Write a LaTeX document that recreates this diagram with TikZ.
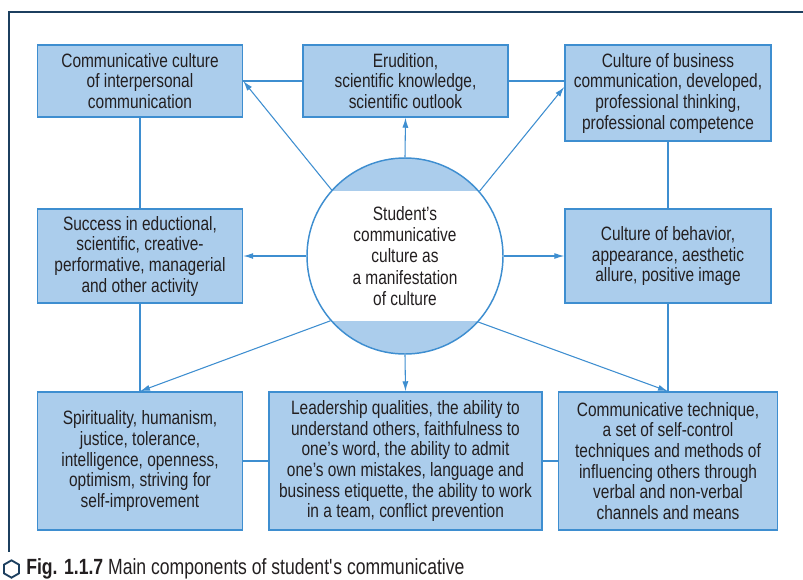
\documentclass[tikz,border=0pt]{standalone}
\usepackage{fontspec}
\setmainfont{Liberation Sans}[FakeStretch=0.8]
\usetikzlibrary{arrows.meta,shapes.geometric}

\definecolor{boxblue}{HTML}{ABCDEC}
\definecolor{lineblue}{HTML}{3E8ED0}
\definecolor{navy}{HTML}{1C3F5F}
\definecolor{ink}{HTML}{231F20}

\tikzset{
  box/.style={draw=lineblue, line width=1.1pt, fill=boxblue, text=ink, align=center,
    inner sep=0pt, font=\fontsize{14.5}{15.5}\selectfont},
  hub/.style={circle, draw=lineblue, line width=1.1pt, fill=white, text=ink, align=center,
    inner sep=0pt, minimum size=147pt, font=\fontsize{14.5}{16}\selectfont,
    path picture={
      \fill[boxblue] (path picture bounding box.north west) rectangle ([yshift=-24.75pt]path picture bounding box.north east);
      \fill[boxblue] (path picture bounding box.south west) rectangle ([yshift=24.75pt]path picture bounding box.south east);
    }},
  link/.style={draw=lineblue, line width=0.8pt},
  arr/.style={link, -{Latex[length=7.5pt,width=4.5pt]}},
}

\begin{document}
\begin{tikzpicture}[x=0.75pt,y=-0.75pt]
  \useasboundingbox (0,0) rectangle (803,579);
  % frame
  \draw[navy, line width=1.8pt] (803,12) -- (9,12) -- (9,552);

  % top row
  \node[box, minimum width=153.75pt, minimum height=54pt] (comm) at (140,81)
    {Communicative culture\\of interpersonal\\communication};
  \node[box, minimum width=153.75pt, minimum height=54pt] (erud) at (405.5,81)
    {Erudition,\\scientific knowledge,\\scientific outlook};
  \node[box, minimum width=154.5pt, minimum height=72pt] (busi) at (668,93)
    {Culture of business\\communication, developed,\\professional thinking,\\professional competence};

  % middle row
  \node[box, minimum width=153.75pt, minimum height=70.5pt] (succ) at (140,256)
    {Success in eductional,\\scientific, creative-\\performative, managerial\\and other activity};
  \node[hub] (stud) at (405,256)
    {Student's\\communicative\\culture as\\a manifestation\\of culture};
  \node[box, minimum width=154.5pt, minimum height=70.5pt] (behav) at (668,256)
    {Culture of behavior,\\appearance, aesthetic\\allure, positive image};

  % bottom row
  \node[box, minimum width=153.75pt, minimum height=103.5pt] (spir) at (140,461)
    {Spirituality, humanism,\\justice, tolerance,\\intelligence, openness,\\optimism, striving for\\self-improvement};
  \node[box, minimum width=204.75pt, minimum height=103.5pt] (lead) at (405.5,461)
    {Leadership qualities, the ability to\\understand others, faithfulness to\\one's word, the ability to admit\\one's own mistakes, language and\\business etiquette, the ability to work\\in a team, conflict prevention};
  \node[box, minimum width=164.25pt, minimum height=103.5pt] (tech) at (668,461)
    {Communicative technique,\\a set of self-control\\techniques and methods of\\influencing others through\\verbal and non-verbal\\channels and means};

  % plain links
  \draw[link] (comm) -- (erud);
  \draw[link] (erud.east) -- (erud.east -| busi.west);
  \draw[link] (comm) -- (succ);
  \draw[link] (succ) -- (spir);
  \draw[link] (busi) -- (behav);
  \draw[link] (behav) -- (tech);
  \draw[link] (spir) -- (lead);
  \draw[link] (lead) -- (tech);

  % arrows from the centre
  \draw[arr] (stud.138.5) -- (comm.east);
  \draw[arr] (stud.north) -- (erud.south);
  \draw[arr] (stud.41.5) -- ([yshift=4.5pt]busi.west);
  \draw[arr] (stud.west) -- (succ.east);
  \draw[arr] (stud.east) -- (behav.west);
  \draw[arr] (stud.221.5) -- (spir.north);
  \draw[arr] (stud.south) -- (lead.north);
  \draw[arr] (stud.318.5) -- (tech.north);

  % caption
  \node[regular polygon, regular polygon sides=6, shape border rotate=30, draw=navy,
    line width=1.4pt, minimum size=13pt, inner sep=0pt] (hex) at (11.5,569) {};
  \node[anchor=base west, text=ink, inner sep=0pt, font=\fontsize{16.5}{20}\selectfont] (cap) at (26,574)
    {\textbf{Fig. 1.1.7} Main components of student\textquotesingle s communicative};
\end{tikzpicture}
\end{document}
